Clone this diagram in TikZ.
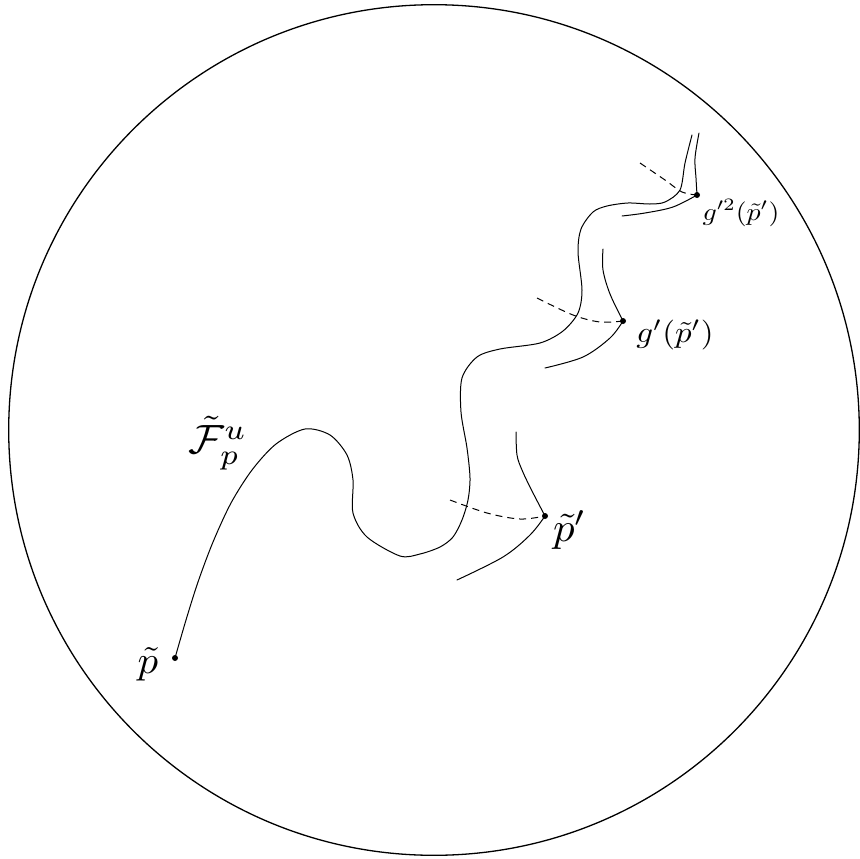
\documentclass[tikz,border=0pt]{standalone}
\usepackage{graphicx}
\begin{document}
\begin{tikzpicture}[x=1bp,y=-1bp,
  curve/.style={line width=1bp,line join=round,line cap=round},
  dashcurve/.style={line width=1bp,dash pattern=on 7bp off 5bp},
  dot/.style={circle,fill=black,inner sep=0pt,minimum size=6bp},
  lbl/.style={inner sep=0pt}]
\useasboundingbox (0,0) rectangle (860,859);
\draw[line width=1.3bp] (434,430) circle[radius=425.3];
% points
\node[dot] (p) at (175,658) {};
\node[dot] (pp) at (545,516) {};
\node[dot] (gp) at (623,321) {};
\node[dot] (ggp) at (697,195) {};
% labels
\node[lbl] (lp) at (148,664) {\scalebox{4.1}[3.9]{$\tilde p$}};
\node[lbl] (lpp) at (570,530) {\scalebox{4.3}[4.1]{$\tilde p'$}};
\node[lbl] (lgp) at (675,335) {\scalebox{3.3}[3.0]{$g'(\tilde p')$}};
\node[lbl] (lggp) at (741,213) {\scalebox{2.8}[2.5]{$g'^2(\tilde p')$}};
\node[lbl] (lF) at (218,443) {\scalebox{4.4}[4.1]{$\tilde{\mathcal F}^u_p$}};
% main leaf
\coordinate (top1) at (692,135);
\draw[curve] plot[smooth,tension=0.5] coordinates {(p.center) (186,620) (198,582) (213,542) (231,503) (252,470) (276,444) (305,429) (330,435) (347,455) (353,480) (353,513) (367,537) (400,556) (420,554) (440,547) (453,537) (462,520) (468,500) (470,478) (467,448) (461,412) (462,378) (477,357) (500,349) (540,343) (563,331) (578,313) (582,290) (578,252) (581,229) (593,212) (607,206) (628,203) (650,204) (665,202) (680,190) (685,163) (top1)};
% branches at p'
\coordinate (a1) at (516,432);
\coordinate (a2) at (457,580);
\coordinate (a3) at (450,500);
\draw[curve] plot[smooth,tension=0.55] coordinates {(a1) (517,455) (522,470) (531,489) (pp.center)};
\draw[curve] plot[smooth,tension=0.55] coordinates {(pp.center) (530,535) (503,557) (a2)};
\draw[dashcurve] plot[smooth,tension=0.55] coordinates {(a3) (487,513) (520,519) (pp.center)};
% branches at g'(p')
\coordinate (b1) at (603,249);
\coordinate (b2) at (545,368);
\coordinate (b3) at (537,298);
\draw[curve] plot[smooth,tension=0.55] coordinates {(b1) (603,270) (610,294) (gp.center)};
\draw[curve] plot[smooth,tension=0.55] coordinates {(gp.center) (610,338) (583,357) (b2)};
\draw[dashcurve] plot[smooth,tension=0.55] coordinates {(b3) (573,315) (600,322) (gp.center)};
% branches at g'^2(p')
\coordinate (c1) at (699,133);
\coordinate (c2) at (622,216);
\coordinate (c3) at (640,163);
\draw[curve] plot[smooth,tension=0.55] coordinates {(c1) (695,158) (696,178) (ggp.center)};
\draw[curve] plot[smooth,tension=0.55] coordinates {(ggp.center) (673,207) (645,213) (c2)};
\draw[dashcurve] plot[smooth,tension=0.55] coordinates {(c3) (665,180) (682,192) (ggp.center)};
\end{tikzpicture}
\end{document}
